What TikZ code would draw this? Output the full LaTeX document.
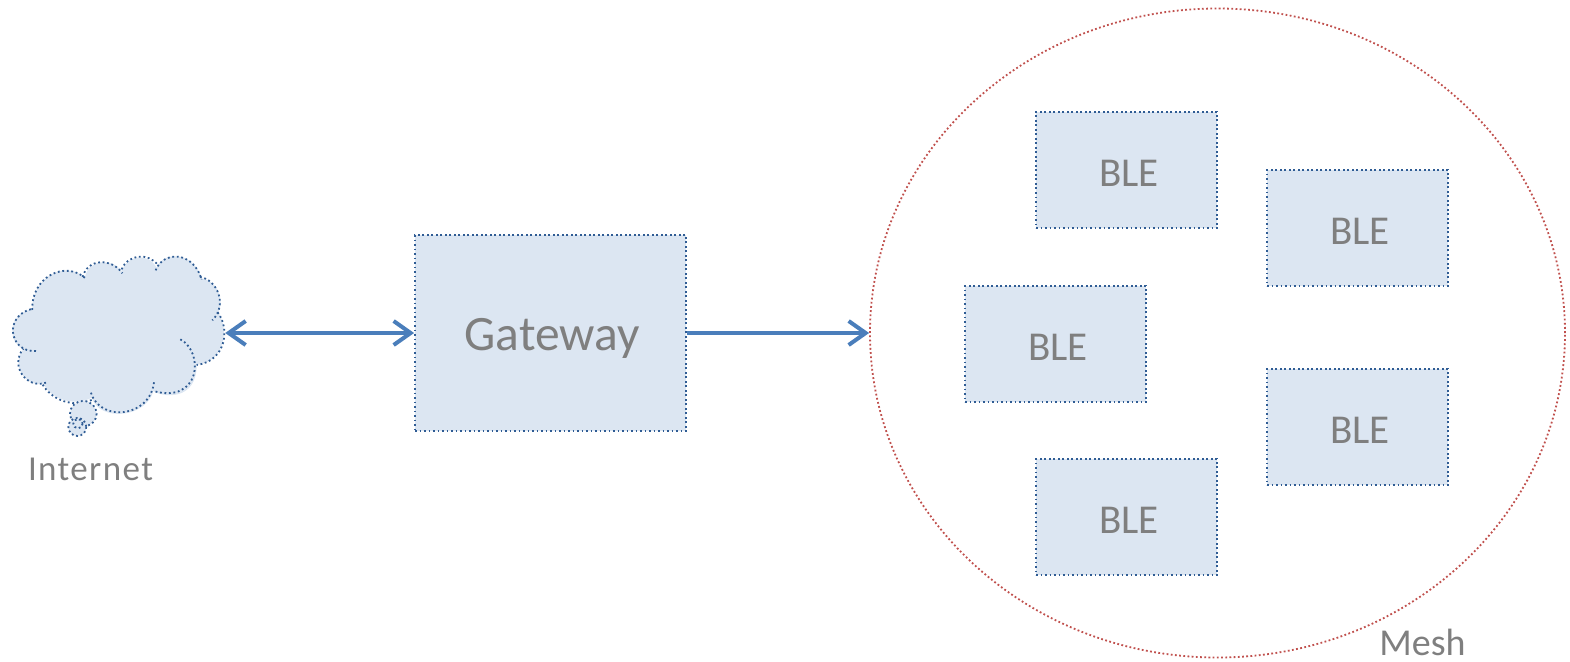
\documentclass[tikz,border=0pt]{standalone}
\usepackage{fontspec}
\setmainfont{Carlito}
\usetikzlibrary{arrows.meta,shapes.geometric}
\definecolor{boxfill}{HTML}{DCE6F2}
\definecolor{boxline}{HTML}{2F5C94}
\definecolor{meshline}{HTML}{C0504D}
\definecolor{arrowc}{HTML}{4A7EBB}
\definecolor{txt}{HTML}{7F7F7F}
\newcommand{\bletxt}{\hspace{5pt}BLE}
\tikzset{
  dotline/.style={draw=boxline,line width=1.8pt,dash pattern=on 1.8pt off 2.7pt},
  blebox/.style={rectangle,fill=boxfill,dotline,minimum width=181pt,minimum height=116pt,inner sep=0pt,text=txt,text height=32pt,text depth=0pt,font=\fontsize{41}{41}\selectfont},
  gatebox/.style={rectangle,fill=boxfill,dotline,minimum width=271pt,minimum height=196pt,inner sep=0pt,text=txt,text height=34pt,text depth=0pt,font=\fontsize{49.5}{49.5}\selectfont},
  meshell/.style={ellipse,draw=meshline,line width=1.8pt,dash pattern=on 1.8pt off 2.4pt,minimum width=695pt,minimum height=649pt,inner sep=0pt},
  lab/.style={text=txt,inner sep=0pt,anchor=center},
  conn/.style={draw=arrowc,line width=4pt},
  tip/.tip={Straight Barb[length=17pt,width=24pt,line width=4pt]}
}
\begin{document}
\begin{tikzpicture}[x=1pt,y=-1pt]
\useasboundingbox (0,0) rectangle (1570,661);
\node[meshell] (mesh) at (1217.5,333) {};
% cloud
\begin{scope}[yshift=-241pt,x=0.3333pt,y=-0.3333pt]
\fill[boxfill] (97,205) .. controls (95,110) and (195,55) .. (255,110)
  .. controls (262,55) and (335,50) .. (365,90)
  .. controls (385,40) and (445,35) .. (470,80)
  .. controls (490,30) and (580,30) .. (605,112)
  .. controls (650,120) and (675,170) .. (655,215)
  .. controls (685,260) and (680,360) .. (590,372)
  .. controls (590,480) and (490,470) .. (460,450)
  .. controls (440,530) and (300,545) .. (275,470)
  .. controls (220,500) and (150,470) .. (130,428)
  .. controls (80,440) and (30,375) .. (70,325)
  .. controls (20,300) and (25,215) .. (97,205) -- cycle;
\draw[dotline] (97,207) .. controls (92,110) and (195,55) .. (258,113);
\draw[dotline] (248,108) .. controls (262,52) and (335,50) .. (367,97);
\draw[dotline] (365,85) .. controls (385,38) and (445,35) .. (474,72);
\draw[dotline] (467,88) .. controls (488,30) and (580,28) .. (605,116);
\draw[dotline] (600,108) .. controls (650,115) and (685,190) .. (637,238);
\draw[dotline] (653,214) .. controls (690,260) and (680,360) .. (590,372);
\draw[dotline] (541,295) .. controls (615,335) and (600,490) .. (460,450);
\draw[dotline] (462,424) .. controls (450,530) and (300,545) .. (273,455);
\draw[dotline] (275,477) .. controls (220,500) and (155,480) .. (125,426);
\draw[dotline] (138,425) .. controls (80,445) and (28,375) .. (70,323);
\draw[dotline] (108,330) .. controls (25,335) and (10,220) .. (100,203);
\filldraw[fill=boxfill,dotline] (250,518) ellipse [x radius=40,y radius=38];
\filldraw[fill=boxfill,dotline] (232,558) circle [radius=27];
\draw[dotline] (234,548) circle [radius=14];
\end{scope}
\node[minimum width=213pt,minimum height=180pt,inner sep=0pt] (cloud) at (118.5,333) {};
\node[gatebox] (gateway) at (550.5,333) {\hspace{3pt}Gateway};
\node[blebox] (b1) at (1126.5,170) {\bletxt};
\node[blebox] (b2) at (1357.5,228) {\bletxt};
\node[blebox] (b3) at (1055.5,344) {\bletxt};
\node[blebox] (b4) at (1357.5,427) {\bletxt};
\node[blebox] (b5) at (1126.5,517) {\bletxt};
\node[lab,font=\fontsize{35}{35}\selectfont\addfontfeature{LetterSpace=4}] (inet) at (90.5,469) {Internet};
\node[lab,font=\fontsize{38}{38}\selectfont] (meshlab) at (1422.5,642.5) {Mesh};
\draw[conn,{tip}-{tip}] (cloud.east) -- (gateway.west);
\draw[conn,-{tip}] (gateway.east) -- (mesh.west);
\end{tikzpicture}
\end{document}
